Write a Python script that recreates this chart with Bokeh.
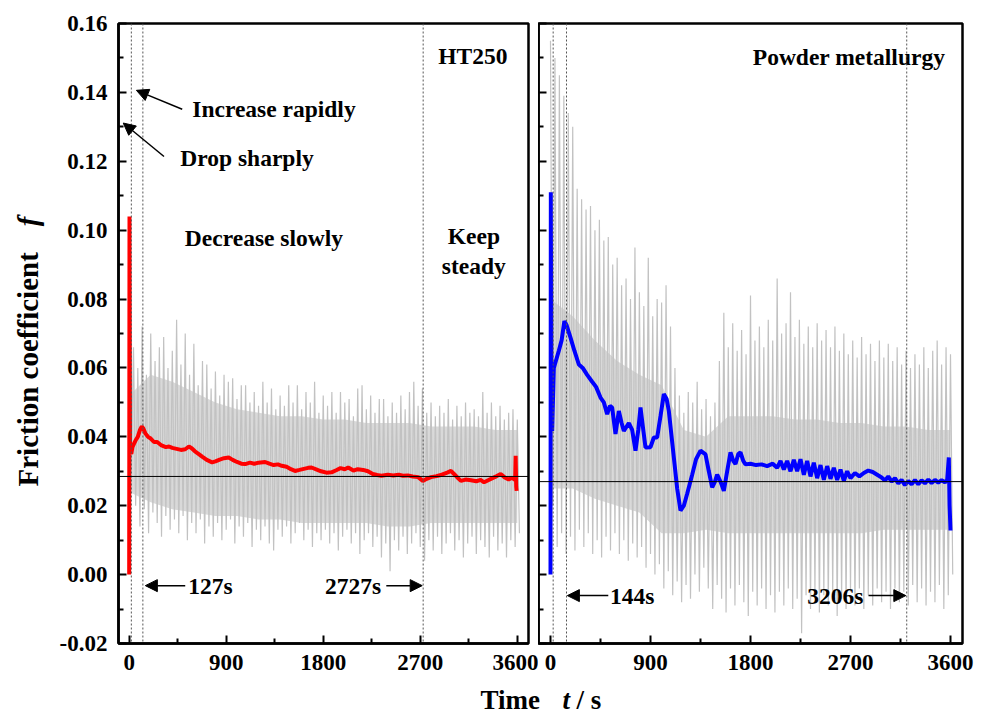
import numpy as np
from bokeh.plotting import figure
from bokeh.layouts import row, column
from bokeh.models import Range1d, FixedTicker, Span, Arrow, NormalHead
from bokeh.core.properties import value
from bokeh.embed import file_html
from bokeh.resources import INLINE

# ---------------- data ----------------
X_TICKS = [0, 900, 1800, 2700, 3600]
X_MINOR = [450, 1350, 2250, 3150]
X_TICK_LABELS = ["0", "900", "1800", "2700", "3600"]
Y_TICKS = [-0.02, 0.0, 0.02, 0.04, 0.06, 0.08, 0.10, 0.12, 0.14, 0.16]
Y_MINOR = [-0.01, 0.01, 0.03, 0.05, 0.07, 0.09, 0.11, 0.13, 0.15]
Y_TICK_LABELS = ["-0.02", "0.00", "0.02", "0.04", "0.06", "0.08", "0.10", "0.12", "0.14", "0.16"]

GRAY_STEP = 40  # s between raw oscillation peaks

# HT250 raw signal: peak / trough per 40 s
ht_gray_hi = [0.052, 0.066, 0.060, 0.072, 0.058, 0.070, 0.062, 0.066, 0.069, 0.060,
              0.065, 0.074, 0.061, 0.070, 0.058, 0.067, 0.055, 0.062, 0.061, 0.054,
              0.059, 0.052, 0.058, 0.056, 0.057, 0.051, 0.055, 0.055, 0.050, 0.053,
              0.049, 0.056, 0.050, 0.054, 0.048, 0.052, 0.049, 0.055, 0.050, 0.055,
              0.048, 0.053, 0.050, 0.056, 0.047, 0.052, 0.049, 0.053, 0.047, 0.053,
              0.050, 0.051, 0.046, 0.054, 0.055, 0.048, 0.052, 0.047, 0.051, 0.051,
              0.046, 0.050, 0.047, 0.052, 0.048, 0.053, 0.056, 0.049, 0.054, 0.047,
              0.050, 0.046, 0.049, 0.047, 0.051, 0.045, 0.049, 0.046, 0.050, 0.047,
              0.048, 0.046, 0.053, 0.047, 0.050, 0.046, 0.049, 0.045, 0.047, 0.048,
              0.045]
ht_gray_lo = [0.030, 0.020, 0.014, 0.019, 0.012, 0.018, 0.015, 0.011, 0.017, 0.013,
              0.016, 0.012, 0.017, 0.010, 0.015, 0.012, 0.016, 0.009, 0.014, 0.011,
              0.015, 0.010, 0.013, 0.016, 0.009, 0.014, 0.011, 0.015, 0.008, 0.013,
              0.010, 0.014, 0.009, 0.007, 0.013, 0.011, 0.014, 0.009, 0.012, 0.015,
              0.010, 0.013, 0.008, 0.012, 0.010, 0.013, 0.009, 0.012, 0.007, 0.011,
              0.013, 0.009, 0.012, 0.006, 0.010, 0.012, 0.008, 0.011, 0.005, 0.009,
              0.001, 0.010, 0.007, 0.011, 0.006, 0.009, 0.012, 0.008, 0.004, 0.010,
              0.007, 0.011, 0.006, 0.009, 0.012, 0.007, 0.010, 0.005, 0.009, 0.011,
              0.006, 0.010, 0.008, 0.005, 0.011, 0.007, 0.009, 0.005, 0.010, 0.008,
              0.012]
CORE_T = [0, 200, 400, 600, 800, 1000, 1200, 1400, 1600, 1800,
          2000, 2200, 2400, 2600, 2800, 3000, 3200, 3400, 3600]
ht_core_hi = [0.052, 0.058, 0.056, 0.053, 0.050, 0.048, 0.047, 0.046, 0.046, 0.045,
              0.045, 0.044, 0.044, 0.044, 0.043, 0.043, 0.043, 0.042, 0.042]
ht_core_lo = [0.024, 0.021, 0.019, 0.018, 0.017, 0.017, 0.016, 0.016, 0.015, 0.015,
              0.015, 0.015, 0.014, 0.014, 0.015, 0.015, 0.015, 0.015, 0.015]

# HT250 mean friction coefficient (red)
ht_t = [0, 3, 8, 20, 30, 45, 60, 80, 100, 117, 130, 150, 175, 200, 230, 260, 300, 340, 370, 400,
        440, 480, 520, 554, 580, 610, 646, 680, 720, 769, 800, 840, 880, 923, 960, 1000, 1040, 1077,
        1120, 1160, 1200, 1261, 1300, 1340, 1380, 1415, 1460, 1500, 1538, 1580, 1620, 1660, 1692,
        1740, 1780, 1830, 1877, 1920, 1960, 2000, 2031, 2080, 2120, 2170, 2215, 2260, 2300, 2339,
        2400, 2450, 2500, 2540, 2585, 2630, 2680, 2724, 2760, 2800, 2850, 2900, 2950, 2985, 3020,
        3050, 3077, 3120, 3170, 3220, 3260, 3292, 3330, 3370, 3410, 3446, 3480, 3520, 3550, 3569,
        3580, 3585, 3590, 3594]
ht_f = [0.000, 0.104, 0.036, 0.035, 0.037, 0.038, 0.039, 0.040, 0.042, 0.043, 0.0425, 0.041,
        0.040, 0.0395, 0.0385, 0.0385, 0.0375, 0.037, 0.0372, 0.0368, 0.0365, 0.0362, 0.0364,
        0.0372, 0.0367, 0.0358, 0.035, 0.0342, 0.0333, 0.0326, 0.0329, 0.0334, 0.0338, 0.034,
        0.0333, 0.0327, 0.0322, 0.0321, 0.0325, 0.0322, 0.0325, 0.0327, 0.0322, 0.0318, 0.0320,
        0.0316, 0.0313, 0.0306, 0.0301, 0.0304, 0.0307, 0.0310, 0.0311, 0.0305, 0.0300, 0.0296,
        0.0297, 0.0303, 0.0309, 0.0306, 0.0311, 0.0302, 0.0306, 0.0304, 0.0300, 0.0292, 0.0289,
        0.0287, 0.0290, 0.0288, 0.0290, 0.0287, 0.0288, 0.0285, 0.0283, 0.0272, 0.0278, 0.0283,
        0.0286, 0.0290, 0.0296, 0.0301, 0.0290, 0.0280, 0.0272, 0.0276, 0.0274, 0.0271, 0.0275,
        0.0268, 0.0274, 0.0280, 0.0286, 0.0292, 0.0283, 0.0276, 0.0281, 0.0277, 0.0275, 0.0345,
        0.0255, 0.0243]
ht_steady_f = 0.0285
ht_marks = [20, 127, 2727]

# Powder metallurgy raw signal
pm_gray_hi = [0.155, 0.150, 0.145, 0.139, 0.134, 0.130, 0.112, 0.109, 0.106, 0.107,
              0.100, 0.103, 0.097, 0.098, 0.090, 0.092, 0.084, 0.086, 0.080, 0.095,
              0.082, 0.078, 0.092, 0.075, 0.080, 0.079, 0.084, 0.072, 0.060, 0.052,
              0.047, 0.053, 0.050, 0.056, 0.048, 0.051, 0.046, 0.050, 0.062, 0.076,
              0.066, 0.073, 0.065, 0.071, 0.064, 0.081, 0.068, 0.072, 0.066, 0.074,
              0.068, 0.086, 0.070, 0.073, 0.082, 0.069, 0.074, 0.067, 0.072, 0.066,
              0.073, 0.068, 0.071, 0.066, 0.072, 0.065, 0.070, 0.064, 0.068, 0.063,
              0.069, 0.064, 0.067, 0.062, 0.068, 0.063, 0.067, 0.062, 0.066, 0.061,
              0.065, 0.060, 0.064, 0.061, 0.066, 0.060, 0.065, 0.068, 0.061, 0.066,
              0.064]
pm_gray_lo = [0.020, 0.008, 0.012, 0.006, 0.011, 0.007, 0.013, 0.008, 0.012, 0.006,
              0.010, 0.005, 0.011, 0.007, 0.012, 0.006, 0.010, 0.004, 0.009, 0.005,
              0.008, 0.002, 0.006, 0.000, 0.003, -0.004, 0.001, -0.006, -0.002, -0.008,
              -0.003, -0.007, 0.000, -0.005, 0.002, -0.004, -0.010, -0.003, -0.007, -0.011,
              -0.004, -0.009, -0.003, -0.008, -0.012, -0.005, -0.009, -0.004, -0.010, -0.006,
              -0.011, -0.005, -0.009, -0.004, -0.010, -0.007, -0.017, -0.006, -0.010, -0.005,
              -0.011, -0.006, -0.009, -0.005, -0.012, -0.007, -0.010, -0.005, -0.009, -0.004,
              -0.010, -0.006, -0.009, -0.004, -0.008, -0.005, -0.010, -0.004, -0.008, -0.005,
              -0.009, -0.003, -0.008, -0.004, -0.009, -0.005, -0.008, -0.003, -0.010, -0.006,
              0.000]
pm_core_hi = [0.080, 0.075, 0.068, 0.062, 0.058, 0.055, 0.042, 0.040, 0.046, 0.046,
              0.046, 0.045, 0.045, 0.044, 0.044, 0.043, 0.043, 0.042, 0.042]
pm_core_lo = [0.025, 0.025, 0.022, 0.020, 0.018, 0.012, 0.012, 0.013, 0.012, 0.012,
              0.012, 0.012, 0.012, 0.012, 0.012, 0.013, 0.013, 0.013, 0.013]

pm_t = [0, 3, 8, 15, 30, 75, 100, 125, 144, 180, 215, 255, 290, 330, 375, 410, 450, 480, 510,
        535, 555, 585, 615, 640, 660, 705, 735, 765, 790, 810, 835, 855, 900, 930, 960, 990, 1020,
        1045, 1065, 1110, 1140, 1170, 1200, 1230, 1275, 1310, 1350, 1395, 1425, 1455, 1480, 1500,
        1530, 1560, 1590, 1620, 1645, 1665, 1690, 1710, 1735, 1755, 1800, 1850, 1900, 1950, 2000,
        2040, 2070, 2100, 2130, 2160, 2190, 2220, 2250, 2280, 2310, 2340, 2370, 2400, 2430, 2460,
        2490, 2520, 2550, 2580, 2610, 2640, 2670, 2700, 2740, 2780, 2820, 2860, 2900, 2940, 2980,
        3010, 3040, 3070, 3100, 3130, 3160, 3190, 3220, 3250, 3280, 3310, 3340, 3370, 3400, 3430,
        3460, 3490, 3520, 3550, 3570, 3585, 3592, 3600]
pm_f = [0.000, 0.111, 0.050, 0.0417, 0.060, 0.065, 0.068, 0.0736, 0.0725, 0.0688, 0.0650,
        0.0610, 0.0600, 0.0580, 0.0560, 0.0545, 0.0514, 0.0500, 0.0466, 0.0490, 0.0485, 0.0408,
        0.0475, 0.0440, 0.0417, 0.0440, 0.0420, 0.0360, 0.0420, 0.0485, 0.0420, 0.0369, 0.0370,
        0.0398, 0.0398, 0.0460, 0.0524, 0.0510, 0.0475, 0.0340, 0.0250, 0.0186, 0.0200, 0.0235,
        0.0290, 0.0335, 0.0360, 0.0349, 0.0300, 0.0253, 0.0270, 0.0290, 0.0270, 0.0243, 0.0300,
        0.0355, 0.0330, 0.0321, 0.0350, 0.0355, 0.0330, 0.0320, 0.0322, 0.0318, 0.0320, 0.0315,
        0.0322, 0.0310, 0.0330, 0.0305, 0.0330, 0.0300, 0.0333, 0.0300, 0.0335, 0.0290, 0.0330,
        0.0285, 0.0325, 0.0280, 0.0318, 0.0275, 0.0315, 0.0278, 0.0310, 0.0275, 0.0305, 0.0272,
        0.0300, 0.0280, 0.0295, 0.0285, 0.0295, 0.0302, 0.0298, 0.0290, 0.0282, 0.0273, 0.0285,
        0.0270, 0.0280, 0.0265, 0.0275, 0.0260, 0.0272, 0.0262, 0.0275, 0.0262, 0.0274, 0.0265,
        0.0276, 0.0266, 0.0275, 0.0267, 0.0274, 0.0268, 0.0275, 0.0340, 0.0200, 0.0128]
pm_steady_f = 0.027
pm_marks = [24, 144, 3206]

SERIF = "Liberation Serif"


def zigzag(hi, lo, step):
    xs, ys = [], []
    for i, (h, l) in enumerate(zip(hi, lo)):
        xs += [i * step, i * step + step / 2]
        ys += [h, l]
    return xs, ys


def make_panel(width, mbl, mbr, xr, labels):
    p = figure(width=width, height=683, x_range=xr, y_range=Range1d(-0.02, 0.16),
               output_backend="svg", toolbar_location=None, title=None,
               min_border_left=mbl, min_border_right=mbr, min_border_top=23, min_border_bottom=40)
    p.grid.visible = False
    p.outline_line_color = "black"
    p.outline_line_width = 2.5
    p.background_fill_color = "white"
    p.border_fill_color = "white"
    p.xaxis.ticker = FixedTicker(ticks=X_TICKS, minor_ticks=X_MINOR)
    p.xaxis.major_label_overrides = dict(zip(X_TICKS, X_TICK_LABELS))
    p.yaxis.ticker = FixedTicker(ticks=Y_TICKS, minor_ticks=Y_MINOR)
    if labels:
        p.yaxis.major_label_overrides = dict(zip(Y_TICKS, Y_TICK_LABELS))
    else:
        p.yaxis.major_label_overrides = {t: "" for t in Y_TICKS}
    for ax in (p.xaxis[0], p.yaxis[0]):
        ax.axis_line_width = 2.5
        ax.major_tick_in = 8
        ax.major_tick_out = 0
        ax.minor_tick_in = 5
        ax.minor_tick_out = 0
        ax.major_tick_line_width = 2
        ax.minor_tick_line_width = 2
        ax.major_label_text_font = SERIF
        ax.major_label_text_font_style = "bold"
        ax.major_label_text_font_size = "23px"
        ax.major_label_text_color = "black"
        ax.major_label_standoff = 11
    if not labels:
        p.yaxis.major_label_standoff = 0
    return p


def draw_data(p, core_hi, core_lo, ghi, glo, t, f, color, steady, marks):
    p.varea(x=CORE_T, y1=core_lo, y2=core_hi, fill_color="#d9d9d9")
    zx, zy = zigzag(ghi, glo, GRAY_STEP)
    p.line(zx, zy, line_color="#c2c2c2", line_width=1.2)
    for m in marks:
        p.add_layout(Span(location=m, dimension="height", line_color="#555555",
                          line_width=1, line_dash="2 2", level="glyph"))
    p.add_layout(Span(location=steady, dimension="width", line_color="black",
                      line_width=1, level="glyph"))
    p.line(t, f, line_color=color, line_width=4)


def txt(p, x, y, s, align="left", size="23.5px", style="bold"):
    p.text(x=[x], y=[y], text=[s], text_font=value(SERIF), text_font_style=style,
           text_font_size=size, text_align=align, text_baseline="middle", text_color="black")


def arrow(p, x0, y0, x1, y1):
    p.add_layout(Arrow(x_start=x0, y_start=y0, x_end=x1, y_end=y1, line_width=1.5,
                       line_color="black",
                       end=NormalHead(size=12, fill_color="black", line_color="black")))


# left panel (HT250)
pl = make_panel(482, 60, 10, Range1d(-99, 3704), True)
draw_data(pl, ht_core_hi, ht_core_lo, ht_gray_hi, ht_gray_lo, ht_t, ht_f, "#ff0000",
          ht_steady_f, ht_marks)
txt(pl, 3188, 0.1507, "HT250", "center")
txt(pl, 585, 0.1351, "Increase rapidly")
arrow(pl, 492, 0.1351, 67, 0.1406)
txt(pl, 474, 0.1209, "Drop sharply")
arrow(pl, 323, 0.1214, -55, 0.1311)
txt(pl, 1250, 0.0977, "Decrease slowly", "center")
txt(pl, 3197, 0.0983, "Keep", "center")
txt(pl, 3197, 0.0896, "steady", "center")
arrow(pl, 520, -0.0032, 150, -0.0032)
txt(pl, 549, -0.0032, "127s")
arrow(pl, 2385, -0.0032, 2718, -0.0032)
txt(pl, 2338, -0.0032, "2727s", "right")

# right panel (Powder metallurgy)
pr = make_panel(448, 0, 24, Range1d(-108, 3708), False)
draw_data(pr, pm_core_hi, pm_core_lo, pm_gray_hi, pm_gray_lo, pm_t, pm_f, "#0000ff",
          pm_steady_f, pm_marks)
txt(pr, 2687, 0.1504, "Powder metallurgy", "center")
arrow(pr, 520, -0.0061, 152, -0.0061)
txt(pr, 535, -0.0061, "144s")
arrow(pr, 2862, -0.0061, 3198, -0.0061)
txt(pr, 2817, -0.0061, "3206s", "right")

# y-axis title (its frame is aligned with the panels' frames: 23 .. 643 px)
py = figure(width=56, height=683, x_range=Range1d(0, 56), y_range=Range1d(40, 660),
            output_backend="svg", toolbar_location=None, min_border=0, title=None)
py.axis.visible = False
py.grid.visible = False
py.outline_line_color = None
py.text(x=[27], y=[197], text=["Friction coefficient"], angle=np.pi / 2,
        text_font=value(SERIF), text_font_style="bold", text_font_size="29px",
        text_align="left", text_baseline="middle")
py.text(x=[27], y=[462], text=["f"], angle=np.pi / 2,
        text_font=value(SERIF), text_font_style="bold italic", text_font_size="29px",
        text_align="center", text_baseline="middle")

# x-axis title (anchored from the top of its frame)
px = figure(width=986, height=33, x_range=Range1d(0, 986), y_range=Range1d(0, 33),
            output_backend="svg", toolbar_location=None, min_border=0, title=None)
px.axis.visible = False
px.grid.visible = False
px.outline_line_color = None
for xx, s, st in [(480, "Time", "bold"), (562, "t", "bold italic"), (576, "/ s", "bold")]:
    px.text(x=[xx], y=[33], text=[s], text_font=value(SERIF), text_font_style=st,
            text_font_size="27px", text_align="left", text_baseline="top", y_offset=1)

layout = column(row(py, pl, pr), px)
open("out.html", "w").write(file_html(layout, INLINE))
